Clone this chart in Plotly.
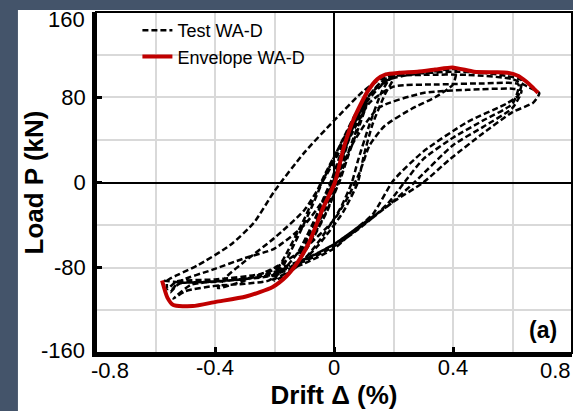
import plotly.graph_objects as go

# ---- data ----
test_x = [0, 0.03, 0.055, 0.03, 0.0, -0.03, -0.06, -0.03, 0.0,
          0.04, 0.08, 0.11,
          0.09, 0.05, 0.02, -0.02, -0.07, -0.11,
          -0.09, -0.05, -0.02, 0.02, 0.07, 0.11,
          0.09, 0.05, 0.02, -0.03, -0.08, -0.115,
          -0.08, -0.04, 0.0,
          0.05, 0.1, 0.15, 0.19,
          0.16, 0.12, 0.08, 0.06, 0.02, -0.05, -0.12, -0.2,
          -0.17, -0.12, -0.07, -0.04, 0.02, 0.08, 0.14, 0.2,
          0.17, 0.13, 0.1, 0.08, 0.03, -0.05, -0.13, -0.21,
          -0.17, -0.11, -0.06, -0.03,
          0.03, 0.1, 0.17, 0.25, 0.33, 0.41,
          0.40, 0.34, 0.26, 0.17, 0.12, 0.087, 0.05, 0.0, -0.1, -0.2, -0.3, -0.39,
          -0.36, -0.3, -0.2, -0.1, -0.04, 0.03, 0.1, 0.18, 0.28, 0.4, 0.5, 0.58, 0.63,
          0.62, 0.58, 0.45, 0.3, 0.2, 0.13, 0.07, 0.0, -0.08, -0.2, -0.35, -0.48, -0.54,
          -0.5, -0.4, -0.3, -0.22, -0.17, -0.12, -0.06, 0.0, 0.05, 0.12, 0.2, 0.35, 0.5, 0.62,
          0.6, 0.5, 0.4, 0.3, 0.25, 0.18, 0.1, 0.0, -0.1, -0.25, -0.4, -0.52, -0.55,
          -0.52, -0.41, -0.3, -0.2, -0.1, -0.04, 0.0, 0.07, 0.15, 0.3, 0.45, 0.6, 0.63,
          0.6, 0.5, 0.4, 0.27, 0.18, 0.08, 0.0, -0.1, -0.25, -0.4, -0.53, -0.56,
          -0.56, -0.52, -0.46, -0.35, -0.27, -0.2, -0.1, 0.0, 0.1, 0.17, 0.3, 0.45, 0.6, 0.65, 0.69,
          0.67, 0.6, 0.5, 0.39, 0.3, 0.2, 0.13, 0.05, 0.0, -0.1, -0.22, -0.36, -0.5, -0.578]
test_y = [0, 25, 45, 22, -5, -25, -42, -20, 3,
          35, 62, 76,
          60, 30, 5, -25, -52, -70,
          -55, -30, -8, 25, 55, 74,
          57, 27, 2, -30, -55, -68,
          -45, -18, 8,
          45, 75, 92, 100,
          85, 55, 20, 0, -25, -55, -78, -92,
          -78, -50, -20, 0, 35, 68, 88, 98,
          82, 55, 25, 0, -28, -58, -80, -91,
          -72, -40, -10, 8,
          40, 75, 97, 102, 104, 106,
          92, 80, 69, 53, 35, 10, -12, -35, -62, -80, -92, -99,
          -88, -74, -52, -26, 0, 35, 72, 96, 102, 104, 103, 100, 96,
          82, 74, 57, 29, 2, -30, -44, -58, -70, -86, -92, -96, -109,
          -102, -97, -95, -92, -82, -65, -32, 5, 40, 75, 90, 92, 93, 92,
          74, 58, 42, 22, 5, -20, -40, -60, -74, -88, -93, -95, -103,
          -93, -82, -71, -62, -40, -18, 0, 40, 70, 84, 87, 88, 86,
          70, 52, 35, 0, -22, -42, -58, -72, -86, -91, -93, -100,
          -92, -86, -78, -59, -38, -8, 28, 58, 86, 99, 101, 101, 97, 90, 84,
          75, 66, 46, 22, 0, -18, -33, -50, -62, -76, -88, -92, -94, -92]

env_x = [-0.578, -0.56, -0.54, -0.475, -0.397, -0.296, -0.206, -0.16, -0.12, -0.083,
         -0.04, 0.003, 0.033, 0.067, 0.112, 0.146, 0.174, 0.22, 0.28, 0.34, 0.398,
         0.471, 0.54, 0.583, 0.62, 0.645, 0.665, 0.686]
env_y = [-92, -108, -115, -116, -112, -107, -98, -88, -74, -56,
         -26, 0, 33, 60, 85, 97, 101.5, 103, 104, 106, 108,
         104, 103.5, 103, 100, 95, 90, 84]

x_ticks = [-0.8, -0.4, 0, 0.4, 0.8]
x_ticktext = ["-0.8", "-0.4", "0", "0.4", "0.8"]
y_ticks = [-160, -80, 0, 80, 160]
y_ticktext = ["-160", "-80", "0", "80", "160"]

FONT = "Arial, Liberation Sans, sans-serif"
TICKFONT = dict(family=FONT, size=22, color="black")

fig = go.Figure()
fig.add_trace(go.Scatter(x=test_x, y=test_y, mode="lines", name="Test WA-D",
                         line=dict(color="black", width=2.5, dash="6px,3px",
                                   shape="spline", smoothing=0.6)))
fig.add_trace(go.Scatter(x=env_x, y=env_y, mode="lines", name="Envelope WA-D",
                         line=dict(color="#C00000", width=4, shape="spline", smoothing=0.6)))

axis_common = dict(
    showgrid=True, gridcolor="#D9D9D9", gridwidth=2,
    zeroline=True, zerolinecolor="black", zerolinewidth=1.5,
    showline=True, linecolor="black", linewidth=3.5, mirror=False,
    ticks="inside", ticklen=6, tickwidth=3, tickcolor="black",
    tickfont=TICKFONT, ticklabeloverflow="allow",
    layer="above traces",
)

# middle labels drawn by the axes; the two end labels are nudged inward like the reference
x_axis_text = [t if i not in (0, len(x_ticks) - 1) else "" for i, t in enumerate(x_ticktext)]
y_axis_text = [t if i not in (0, len(y_ticks) - 1) else "" for i, t in enumerate(y_ticktext)]

fig.update_xaxes(range=[-0.8, 0.8], tickvals=x_ticks, ticktext=x_axis_text,
                 ticklabelstandoff=-8,
                 minor=dict(dtick=0.2, showgrid=True, gridcolor="#D9D9D9", gridwidth=2, ticks=""),
                 title=dict(text="<b>Drift Δ (%)</b>", font=dict(family=FONT, size=26, color="black"),
                            standoff=0),
                 **axis_common)
fig.update_yaxes(range=[-160, 160], tickvals=y_ticks, ticktext=y_axis_text,
                 ticklabelstandoff=2,
                 minor=dict(dtick=40, showgrid=True, gridcolor="#D9D9D9", gridwidth=2, ticks=""),
                 title=dict(text="<b>Load P (kN)</b>", font=dict(family=FONT, size=26, color="black"),
                            standoff=4),
                 **axis_common)

edge_labels = [
    dict(text=x_ticktext[0], x=x_ticks[0], y=0, xref="x", yref="paper",
         xanchor="left", yanchor="middle", xshift=-7, yshift=-17),
    dict(text=x_ticktext[-1], x=x_ticks[-1], y=0, xref="x", yref="paper",
         xanchor="right", yanchor="middle", xshift=1, yshift=-17),
    dict(text=y_ticktext[0], x=0, y=y_ticks[0], xref="paper", yref="y",
         xanchor="right", yanchor="middle", xshift=-9, yshift=3),
    dict(text=y_ticktext[-1], x=0, y=y_ticks[-1], xref="paper", yref="y",
         xanchor="right", yanchor="middle", xshift=-9, yshift=-7),
]
for a in edge_labels:
    a.update(showarrow=False, font=TICKFONT)

fig.update_layout(
    width=573, height=411,
    margin=dict(l=96, r=1, t=12, b=58),
    paper_bgcolor="#44546A",
    plot_bgcolor="white",
    showlegend=True,
    legend=dict(x=0.087, y=1.0, xanchor="left", yanchor="top",
                bgcolor="rgba(255,255,255,0)", borderwidth=0,
                font=dict(family=FONT, size=18, color="black"),
                tracegroupgap=0, itemwidth=30),
    shapes=[
        dict(type="rect", xref="paper", yref="paper", x0=-0.164, x1=1.05, y0=-0.3, y1=1.006,
             fillcolor="white", line=dict(width=0), layer="below"),
        dict(type="rect", xref="paper", yref="paper", x0=0, x1=1, y0=0, y1=1,
             line=dict(color="black", width=2), layer="above"),
    ],
    annotations=edge_labels + [
        dict(text="<b>(a)</b>", x=0.703, y=-138, xref="x", yref="y", showarrow=False,
             font=dict(family=FONT, size=23, color="black")),
    ],
)

fig.write_html("out.html")
